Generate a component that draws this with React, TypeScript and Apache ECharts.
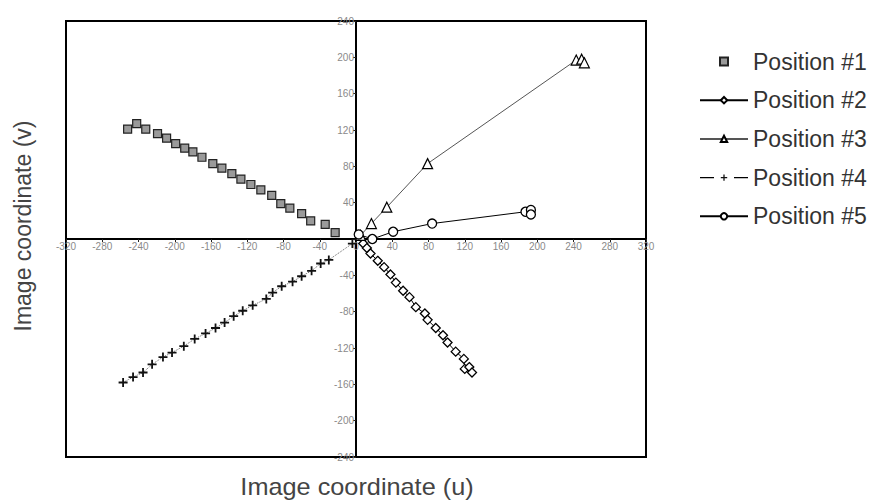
import React, { useEffect, useRef } from "react";
import * as echarts from "echarts";

const xTicks = { min: -320, max: 320, interval: 40 };
const yTicks = { min: -240, max: 240, interval: 40 };

const seriesNames = ["Position #1", "Position #2", "Position #3", "Position #4", "Position #5"];

const pos1: number[][] = [
  [-252, 121], [-242, 127], [-232, 121], [-219, 116], [-209, 111], [-199, 105],
  [-189, 100], [-180, 96], [-170, 90], [-158, 83], [-148, 78], [-137, 72],
  [-127, 66], [-116, 60], [-105, 54], [-93, 48], [-83, 39], [-73, 34],
  [-60, 28], [-50, 20], [-34, 16], [-23, 7],
];

const pos2: number[][] = [
  [8, -5], [12, -10], [16, -16], [24, -24], [31, -31], [38, -39], [44, -48],
  [52, -57], [59, -64], [66, -75], [76, -82], [79, -89], [88, -98], [96, -106],
  [101, -114], [110, -124], [119, -132], [120, -143], [125, -141], [128, -147],
];

const pos3: number[][] = [
  [5, 4], [17, 17], [34, 35], [79, 83], [243, 197], [249, 198], [252, 194],
];

const pos4: number[][] = [
  [-257, -158], [-246, -152], [-235, -147], [-225, -138], [-213, -130], [-203, -125],
  [-190, -118], [-178, -110], [-166, -104], [-155, -98], [-145, -92], [-135, -85],
  [-125, -79], [-114, -73], [-99, -66], [-92, -59], [-82, -52], [-70, -47],
  [-60, -41], [-49, -35], [-39, -27], [-30, -23], [-4, -5],
];

const pos5: number[][] = [
  [3, 5], [18, 0], [41, 8], [84, 17], [187, 30], [193, 32], [193, 27],
];

const FONT = "'Liberation Sans', Arial, sans-serif";
const PLUS = "path://M4,0h2v4h4v2h-4v4h-2v-4h-4v-2h4z";
const SQUARE = "path://M0,0h10v10h-10z";

const GRID = { left: 66, right: 229, top: 21, bottom: 45 };
const W = 875;
const H = 502;

export default function App() {
  const ref = useRef<HTMLDivElement>(null);
  useEffect(() => {
    if (!ref.current) return;
    const chart = echarts.init(ref.current, null, { renderer: "svg" });
    const gridW = W - GRID.left - GRID.right;
    const gridH = H - GRID.top - GRID.bottom;
    const axisCommon = {
      type: "value",
      splitLine: { show: false },
      axisLine: { onZero: false, lineStyle: { color: "#000", width: 2 } },
      axisTick: { show: true, length: 3, lineStyle: { color: "#222", width: 1 } },
    };
    chart.setOption({
      animation: false,
      backgroundColor: "#fff",
      grid: {
        ...GRID,
        show: true, borderColor: "#000", borderWidth: 2, backgroundColor: "transparent",
      },
      xAxis: {
        ...axisCommon,
        position: "bottom",
        offset: -gridH * (0 - yTicks.min) / (yTicks.max - yTicks.min),
        min: xTicks.min, max: xTicks.max, interval: xTicks.interval,
        axisLabel: { fontSize: 10, color: "#8a8a8a", margin: 2, fontFamily: FONT },
      },
      yAxis: {
        ...axisCommon,
        position: "left",
        offset: -gridW * (0 - xTicks.min) / (xTicks.max - xTicks.min),
        min: yTicks.min, max: yTicks.max, interval: yTicks.interval,
        axisLabel: {
          fontSize: 10, color: "#8a8a8a", margin: 2, fontFamily: FONT,
          formatter: (v: number) => (v === 0 ? "" : String(v)),
        },
      },
      legend: {
        orient: "vertical",
        left: 694,
        top: 45,
        padding: 5,
        itemWidth: 48,
        itemHeight: 8,
        itemGap: 15.7,
        textStyle: { fontSize: 23, color: "#333", fontFamily: FONT, lineHeight: 22 },
        data: [
          { name: seriesNames[0], icon: SQUARE },
          { name: seriesNames[1] },
          { name: seriesNames[2] },
          { name: seriesNames[3], lineStyle: { type: [14, 20], color: "#000", width: 1.3 } },
          { name: seriesNames[4] },
        ],
      },
      series: [
        {
          name: seriesNames[0], type: "scatter", data: pos1, symbol: "rect", symbolSize: 8,
          itemStyle: { color: "#9a9a9a", borderColor: "#222", borderWidth: 1.2, opacity: 1 },
        },
        {
          name: seriesNames[1], type: "line", data: pos2, symbol: "diamond", symbolSize: 9,
          itemStyle: { color: "#fff", borderColor: "#000", borderWidth: 1.3 },
          lineStyle: { color: "#000", width: 1 },
        },
        {
          name: seriesNames[2], type: "line", data: pos3, symbol: "triangle", symbolSize: 10,
          itemStyle: { color: "#fff", borderColor: "#000", borderWidth: 1.2 },
          lineStyle: { color: "#555", width: 1 },
        },
        {
          name: seriesNames[3], type: "line", data: pos4, symbol: PLUS, symbolSize: 9,
          itemStyle: { color: "#111", borderWidth: 0 },
          lineStyle: { color: "#666", width: 1, type: "dotted" },
        },
        {
          name: seriesNames[4], type: "line", data: pos5, symbol: "circle", symbolSize: 9,
          itemStyle: { color: "#fff", borderColor: "#000", borderWidth: 1.3 },
          lineStyle: { color: "#000", width: 1 },
        },
      ],
      graphic: [
        {
          type: "text", x: 357, y: 487, scaleX: 1.1,
          style: {
            text: "Image coordinate (u)", fontSize: 23, fill: "#444", fontFamily: FONT,
            align: "center", verticalAlign: "middle",
          },
        },
        {
          type: "text", x: 23, y: 226, rotation: Math.PI / 2,
          style: {
            text: "Image coordinate (v)", fontSize: 23, fill: "#444", fontFamily: FONT,
            align: "center", verticalAlign: "middle",
          },
        },
      ],
    });
    return () => chart.dispose();
  }, []);
  return <div ref={ref} style={{ width: W, height: H, position: "absolute", left: 0, top: 0 }} />;
}
